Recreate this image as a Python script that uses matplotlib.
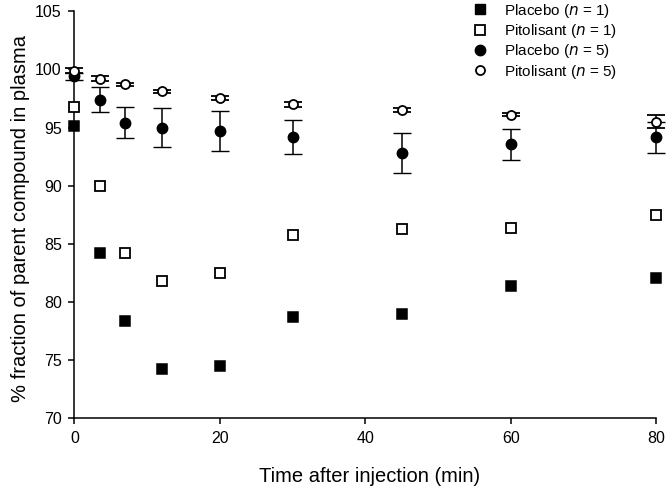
import matplotlib.pyplot as plt
from matplotlib.lines import Line2D

plt.rcParams['font.family'] = ['Liberation Sans', 'DejaVu Sans']

# time points (min)
t = [0, 3.5, 7, 12, 20, 30, 45, 60, 80]

# single animal
placebo_1 = [95.15, 84.2, 78.4, 74.2, 74.5, 78.7, 78.95, 81.4, 82.1]
pitolisant_1 = [96.8, 89.95, 84.2, 81.8, 82.5, 85.8, 86.25, 86.4, 87.5]

# n = 5, mean and error
placebo_5 = [99.4, 97.4, 95.4, 95.0, 94.7, 94.2, 92.8, 93.55, 94.15]
placebo_5_err = [0.3, 1.07, 1.33, 1.65, 1.72, 1.47, 1.7, 1.33, 1.35]
pitolisant_5 = [99.9, 99.2, 98.7, 98.1, 97.55, 97.0, 96.5, 96.1, 95.5]
pitolisant_5_err = [0.2, 0.2, 0.15, 0.15, 0.15, 0.2, 0.15, 0.15, 0.57]

labels = ['Placebo ($n$ = 1)', 'Pitolisant ($n$ = 1)',
          'Placebo ($n$ = 5)', 'Pitolisant ($n$ = 5)']

fig = plt.figure(figsize=(6.66, 4.87), dpi=100)
ax = fig.add_axes([0.1116, 0.141, 0.874, 0.836])

ax.plot(t, placebo_1, 's', color='black', ms=6.5, mec='black', mew=1.1,
        clip_on=False, zorder=3)
ax.plot(t, pitolisant_1, 's', mfc='white', mec='black', ms=6.5, mew=1.3,
        clip_on=False, zorder=3)
ax.errorbar(t, placebo_5, yerr=placebo_5_err, fmt='o', color='black', ms=7.5,
            mew=1.0, ecolor='black', elinewidth=1.1, capsize=6.5, capthick=1.1,
            clip_on=False, zorder=4)
ax.errorbar(t, pitolisant_5, yerr=pitolisant_5_err, fmt='o', mfc='white',
            mec='black', ms=6.5, mew=1.3, ecolor='black', elinewidth=1.1,
            capsize=6.5, capthick=1.1, clip_on=False, zorder=5)

ax.set_xlim(0, 80)
ax.set_ylim(70, 105)
ax.set_xticks([0, 20, 40, 60, 80])
ax.set_yticks(range(70, 106, 5))
ax.spines['top'].set_visible(False)
ax.spines['right'].set_visible(False)
for s in ('left', 'bottom'):
    ax.spines[s].set_linewidth(1.1)
ax.tick_params(direction='out', length=4, width=1.1, labelsize=11.5, pad=5)

ax.set_xlabel('Time after injection (min)', fontsize=14.5, va='center')
ax.set_ylabel('% fraction of parent compound in plasma', fontsize=14.5,
              va='center')
ax.xaxis.set_label_coords(0.507, -0.142)
ax.yaxis.set_label_coords(-0.093, 0.49)

handles = [
    Line2D([], [], ls='', marker='s', color='black', ms=6.5),
    Line2D([], [], ls='', marker='s', mfc='white', mec='black', ms=6.5, mew=1.3),
    Line2D([], [], ls='', marker='o', color='black', ms=7.5),
    Line2D([], [], ls='', marker='o', mfc='white', mec='black', ms=6.5, mew=1.3),
]
fig.legend(handles, labels, loc='upper right', bbox_to_anchor=(0.936, 1.009),
           frameon=False, fontsize=11, handlelength=0.8, handletextpad=1.2,
           labelspacing=0.15, borderaxespad=0)

fig.savefig('out.png', dpi=100)
